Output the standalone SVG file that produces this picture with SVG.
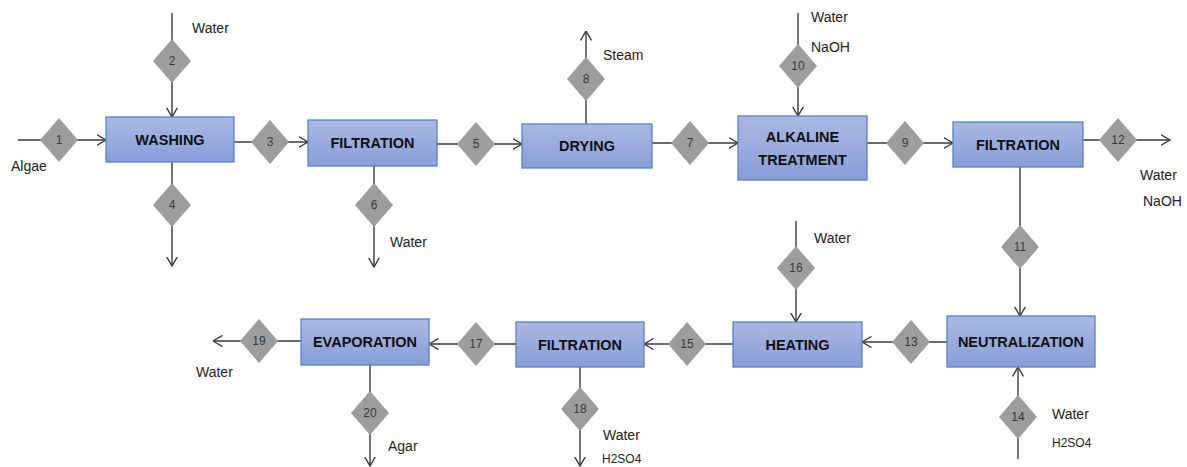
<svg xmlns="http://www.w3.org/2000/svg" width="1187" height="467" viewBox="0 0 1187 467">
<defs>
<linearGradient id="bg" x1="0" y1="0" x2="0" y2="1">
<stop offset="0" stop-color="#aab9e2"/>
<stop offset="1" stop-color="#879ed8"/>
</linearGradient>
<marker id="ar" markerUnits="userSpaceOnUse" viewBox="0 0 10 12" refX="9.5" refY="6" markerWidth="10" markerHeight="12" orient="auto">
<path d="M0,0.5 L9.5,6 L0,11.5" fill="none" stroke="#3a3a3a" stroke-width="1.4"/>
</marker>
<path id="dm" d="M0,-22 L19,0 L0,22 L-19,0 Z"/>
</defs>
<style>
.c{stroke:#3a3a3a;stroke-width:1.4;fill:none;marker-end:url(#ar)}
.b{fill:url(#bg);stroke:#5a80d0;stroke-width:1.3}
.bt{font-family:"Liberation Sans",Arial,sans-serif;font-weight:bold;font-size:14.5px;fill:#111;text-anchor:middle}
.d{fill:#9d9d9d}
.dt{font-family:"Liberation Sans",Arial,sans-serif;font-size:12px;fill:#3a3a3a;text-anchor:middle}
.l{font-family:"Liberation Sans",Arial,sans-serif;font-size:14px;fill:#222}
.s{font-family:"Liberation Sans",Arial,sans-serif;font-size:12px;fill:#222}
</style>
<rect width="1187" height="467" fill="#fff"/>
<g id="connectors">
<path class="c" d="M18,140 H106"/>
<path class="c" d="M172,13 V117"/>
<path class="c" d="M234,142 H308"/>
<path class="c" d="M172,162 V266"/>
<path class="c" d="M437,144 H522"/>
<path class="c" d="M374,166 V267"/>
<path class="c" d="M652,143 H738"/>
<path class="c" d="M586,124 V31"/>
<path class="c" d="M798,13 V116"/>
<path class="c" d="M867,143 H953"/>
<path class="c" d="M1083,140 H1170"/>
<path class="c" d="M1020,167 V316"/>
<path class="c" d="M947,342 H862"/>
<path class="c" d="M1018,459 V367"/>
<path class="c" d="M796,221 V322"/>
<path class="c" d="M733,344 H644"/>
<path class="c" d="M516,344 H429"/>
<path class="c" d="M301,341 H213"/>
<path class="c" d="M370,365 V466"/>
<path class="c" d="M580,367 V466"/>
</g>
<g id="washing"><rect class="b" x="106" y="117" width="128" height="45"/><text class="bt" x="170" y="145">WASHING</text></g>
<g id="filtration1"><rect class="b" x="308" y="120" width="129" height="46"/><text class="bt" x="372.5" y="148">FILTRATION</text></g>
<g id="drying"><rect class="b" x="522" y="124" width="130" height="44"/><text class="bt" x="587" y="151">DRYING</text></g>
<g id="alkaline"><rect class="b" x="738" y="116" width="129" height="64"/><text class="bt" x="802.5" y="142">ALKALINE</text><text class="bt" x="802.5" y="165">TREATMENT</text></g>
<g id="filtration2"><rect class="b" x="953" y="122" width="130" height="45"/><text class="bt" x="1018" y="150">FILTRATION</text></g>
<g id="neutralization"><rect class="b" x="947" y="316" width="148" height="51"/><text class="bt" x="1021" y="347">NEUTRALIZATION</text></g>
<g id="heating"><rect class="b" x="733" y="322" width="129" height="45"/><text class="bt" x="797.5" y="350">HEATING</text></g>
<g id="filtration3"><rect class="b" x="516" y="322" width="128" height="45"/><text class="bt" x="580" y="350">FILTRATION</text></g>
<g id="evaporation"><rect class="b" x="301" y="319" width="128" height="46"/><text class="bt" x="365" y="347">EVAPORATION</text></g>
<g id="s1"><use href="#dm" class="d" x="59" y="140"/><text class="dt" x="59" y="144">1</text></g>
<g id="s2"><use href="#dm" class="d" x="172" y="61"/><text class="dt" x="172" y="65">2</text></g>
<g id="s3"><use href="#dm" class="d" x="270" y="142"/><text class="dt" x="270" y="146">3</text></g>
<g id="s4"><use href="#dm" class="d" x="172" y="205"/><text class="dt" x="172" y="209">4</text></g>
<g id="s5"><use href="#dm" class="d" x="476" y="144"/><text class="dt" x="476" y="148">5</text></g>
<g id="s6"><use href="#dm" class="d" x="374" y="205"/><text class="dt" x="374" y="209">6</text></g>
<g id="s7"><use href="#dm" class="d" x="690" y="143"/><text class="dt" x="690" y="147">7</text></g>
<g id="s8"><use href="#dm" class="d" x="586" y="79"/><text class="dt" x="586" y="83">8</text></g>
<g id="s9"><use href="#dm" class="d" x="905" y="143"/><text class="dt" x="905" y="147">9</text></g>
<g id="s10"><use href="#dm" class="d" x="798" y="66"/><text class="dt" x="798" y="70">10</text></g>
<g id="s11"><use href="#dm" class="d" x="1020" y="247"/><text class="dt" x="1020" y="251">11</text></g>
<g id="s12"><use href="#dm" class="d" x="1118" y="140"/><text class="dt" x="1118" y="144">12</text></g>
<g id="s13"><use href="#dm" class="d" x="911" y="342"/><text class="dt" x="911" y="346">13</text></g>
<g id="s14"><use href="#dm" class="d" x="1018" y="417"/><text class="dt" x="1018" y="421">14</text></g>
<g id="s15"><use href="#dm" class="d" x="687" y="344"/><text class="dt" x="687" y="348">15</text></g>
<g id="s16"><use href="#dm" class="d" x="796" y="268"/><text class="dt" x="796" y="272">16</text></g>
<g id="s17"><use href="#dm" class="d" x="476" y="344"/><text class="dt" x="476" y="348">17</text></g>
<g id="s18"><use href="#dm" class="d" x="580" y="409"/><text class="dt" x="580" y="413">18</text></g>
<g id="s19"><use href="#dm" class="d" x="259" y="341"/><text class="dt" x="259" y="345">19</text></g>
<g id="s20"><use href="#dm" class="d" x="370" y="413"/><text class="dt" x="370" y="417">20</text></g>
<g id="labels">
<text class="l" x="192" y="33">Water</text>
<text class="l" x="11" y="171">Algae</text>
<text class="l" x="603" y="60">Steam</text>
<text class="l" x="390" y="247">Water</text>
<text class="l" x="811" y="22">Water</text>
<text class="l" x="811" y="52">NaOH</text>
<text class="l" x="1140" y="180">Water</text>
<text class="l" x="1143" y="206">NaOH</text>
<text class="l" x="814" y="243">Water</text>
<text class="l" x="1052" y="419">Water</text>
<text class="s" x="1052" y="447">H2SO4</text>
<text class="l" x="196" y="377">Water</text>
<text class="l" x="388" y="451">Agar</text>
<text class="l" x="603" y="440">Water</text>
<text class="s" x="602" y="463">H2SO4</text>
</g>
</svg>
